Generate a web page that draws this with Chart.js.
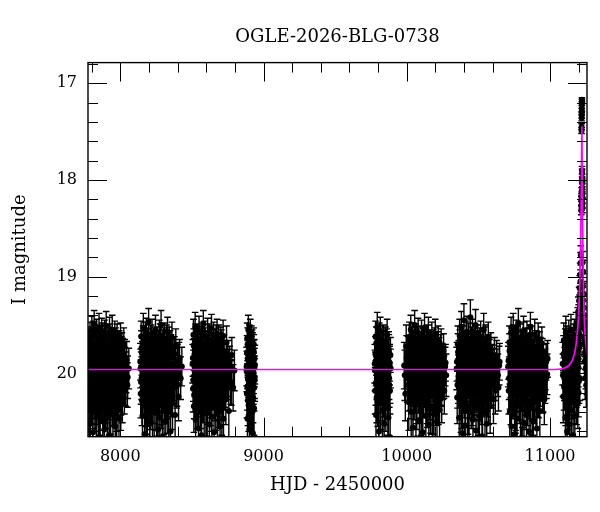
<!DOCTYPE html>
<html>
<head>
<meta charset="utf-8">
<script src="https://cdn.jsdelivr.net/npm/chart.js@4"></script>
<style>
html,body{margin:0;padding:0;background:#fff;}
#wrap{width:600px;height:512px;position:relative;}
</style>
</head>
<body>
<div id="wrap"><canvas id="c"></canvas></div>
<script>
// ---- data: [HJD-2450000, I mag, error] per observing season ----
const season1 = [[7774,19.92,.20],[7776,20.15,.24],[7779,19.71,.17],[7781,20.38,.28],[7783,19.88,.19],[7786,20.04,.22],[7789,19.63,.16],[7791,20.52,.32],[7794,19.97,.21],[7797,19.80,.18],[7799,20.27,.25],[7802,19.56,.15],[7805,20.09,.23],[7807,19.91,.20],[7810,20.61,.33],[7812,19.74,.17],[7815,20.18,.24],[7818,19.49,.14],[7820,19.99,.21],[7823,20.33,.27],[7826,19.68,.16],[7828,20.07,.22],[7831,19.85,.19],[7833,20.45,.30],[7836,19.60,.16],[7839,20.21,.25],[7841,19.94,.20],[7844,19.77,.18],[7846,20.69,.35],[7849,20.02,.22],[7852,19.53,.15],[7854,20.12,.23],[7857,19.89,.19],[7860,20.36,.28],[7862,19.66,.16],[7865,19.98,.21],[7868,20.26,.26],[7870,19.58,.15],[7873,20.05,.22],[7875,19.82,.18],[7878,20.48,.31],[7881,19.72,.17],[7883,20.14,.24],[7886,19.93,.20],[7889,20.58,.33],[7891,19.61,.16],[7894,20.01,.21],[7896,19.86,.19],[7899,20.30,.27],[7902,19.51,.15],[7904,20.10,.23],[7907,19.79,.18],[7910,20.41,.29],[7912,19.96,.21],[7915,19.69,.17],[7917,20.23,.25],[7920,19.90,.20],[7923,20.64,.34],[7925,19.57,.15],[7928,20.08,.22],[7931,19.83,.19],[7933,20.35,.28],[7936,19.75,.17],[7938,20.00,.21],[7941,20.19,.24],[7944,19.55,.15],[7946,19.95,.20],[7949,20.43,.30],[7952,19.70,.17],[7954,20.06,.22],[7957,19.87,.19],[7959,20.29,.26],[7962,19.62,.16],[7965,20.55,.32],[7967,19.92,.20],[7970,20.13,.23],[7973,19.78,.18],[7975,20.38,.29],[7978,19.65,.16],[7980,20.03,.22],[7983,19.84,.19],[7986,20.22,.25],[7988,19.73,.17],[7991,20.47,.31],[7994,19.97,.21],[7996,19.81,.18],[7999,20.16,.24],[8002,19.64,.16],[8004,20.32,.27],[8007,19.90,.20],[8010,20.09,.23],[8012,19.76,.18],[8015,20.25,.26],[8018,19.83,.19],[8021,20.02,.22],[8025,19.70,.17],[8029,20.18,.24],[8033,19.93,.20],[8038,20.11,.23],[8045,19.86,.19],[8052,20.04,.22],[8060,19.95,.21],
  [7777,19.81,.19],[7782,20.11,.23],[7787,19.90,.20],[7792,19.69,.17],[7796,20.22,.25],[7800,20.01,.22],[7804,19.76,.18],[7808,20.30,.27],[7811,19.94,.20],[7814,19.62,.16],[7817,20.06,.22],[7821,19.85,.19],[7825,20.17,.24],[7829,19.73,.17],[7832,20.00,.21],[7835,20.27,.26],[7838,19.88,.19],[7842,19.67,.17],[7845,20.13,.23],[7848,19.92,.20],[7851,20.39,.28],[7855,19.78,.18],[7858,20.04,.22],[7861,19.97,.21],[7864,19.71,.17],[7867,20.20,.25],[7871,19.86,.19],[7874,20.09,.23],[7877,19.64,.16],[7880,19.99,.21],[7884,20.32,.27],[7887,19.80,.18],[7890,20.07,.22],[7893,19.90,.20],[7897,20.15,.24],[7900,19.68,.17],[7903,20.03,.22],[7906,19.95,.20],[7909,20.25,.26],[7913,19.75,.18],[7916,20.10,.23],[7919,19.83,.19],[7922,20.36,.28],[7926,19.93,.20],[7929,19.66,.17],[7932,20.18,.24],[7935,19.88,.19],[7939,20.05,.22],[7942,19.72,.17],[7945,20.28,.26],[7948,19.96,.21],[7951,20.12,.23],[7955,19.79,.18],[7958,20.00,.21],[7961,19.87,.19],[7964,20.21,.25],[7968,19.70,.17],[7971,20.08,.22],[7974,19.94,.20],[7977,20.33,.27],[7981,19.82,.19],[7984,20.02,.22],[7987,19.91,.20],[7990,20.14,.24],[7993,19.74,.18],[7997,20.05,.22],[8000,19.89,.19],[8005,20.19,.24],[8009,19.80,.18],[8014,20.03,.22],[8019,19.92,.20],[8024,20.10,.23],[8031,19.84,.19],[8041,19.99,.21],[8050,20.12,.23]];
const season2 = [[8140,19.88,.19],[8143,20.21,.25],[8146,19.62,.16],[8149,20.05,.22],[8152,19.79,.18],[8155,20.44,.30],[8158,19.97,.21],[8161,19.53,.15],[8164,20.12,.23],[8167,19.85,.19],[8170,20.63,.34],[8173,19.70,.17],[8176,20.01,.21],[8179,20.29,.26],[8182,19.58,.15],[8186,19.93,.20],[8189,20.37,.28],[8192,19.76,.18],[8195,20.08,.22],[8198,19.47,.14],[8201,20.17,.24],[8204,19.90,.20],[8207,20.52,.32],[8210,19.66,.16],[8213,20.03,.22],[8216,19.82,.19],[8219,20.25,.25],[8222,19.59,.15],[8225,20.70,.36],[8228,19.95,.20],[8231,20.14,.23],[8234,19.73,.17],[8237,20.40,.29],[8240,19.87,.19],[8243,20.06,.22],[8246,19.55,.15],[8249,20.32,.27],[8252,19.98,.21],[8255,19.68,.16],[8258,20.19,.24],[8261,19.81,.18],[8264,20.58,.33],[8267,19.91,.20],[8270,20.10,.23],[8273,19.61,.16],[8276,20.46,.30],[8279,19.77,.18],[8282,20.02,.22],[8285,19.50,.15],[8288,20.27,.26],[8291,19.94,.20],[8294,20.66,.35],[8297,19.72,.17],[8300,20.15,.24],[8303,19.86,.19],[8306,20.35,.28],[8309,19.64,.16],[8312,20.04,.22],[8315,19.89,.19],[8318,20.50,.31],[8321,19.75,.17],[8324,20.22,.25],[8327,19.99,.21],[8330,19.57,.15],[8333,20.11,.23],[8336,19.83,.19],[8339,20.39,.29],[8342,19.69,.17],[8345,20.07,.22],[8348,19.92,.20],[8351,20.60,.33],[8354,19.78,.18],[8357,20.18,.24],[8361,19.63,.16],[8365,20.31,.27],[8369,19.96,.21],[8373,20.09,.23],[8378,19.80,.18],[8383,20.43,.30],[8388,19.71,.17],[8394,20.13,.23],[8400,19.90,.20],[8407,20.24,.25],[8414,19.84,.19],[8422,20.05,.22],[8430,19.93,.20],
  [8142,19.95,.20],[8145,20.09,.23],[8148,19.74,.18],[8151,20.28,.26],[8154,19.86,.19],[8157,20.02,.22],[8160,19.68,.17],[8163,19.92,.20],[8166,20.19,.24],[8169,19.80,.18],[8172,20.06,.22],[8175,19.63,.16],[8178,19.97,.21],[8181,20.35,.28],[8185,19.83,.19],[8188,20.13,.23],[8191,19.90,.20],[8194,19.71,.17],[8197,20.24,.25],[8200,20.00,.21],[8203,19.77,.18],[8206,20.10,.23],[8209,19.89,.19],[8212,20.31,.27],[8215,19.66,.16],[8218,20.04,.22],[8221,19.94,.20],[8224,20.16,.24],[8227,19.79,.18],[8230,20.01,.21],[8233,19.87,.19],[8236,20.26,.26],[8239,19.69,.17],[8242,20.08,.22],[8245,19.92,.20],[8248,20.14,.24],[8251,19.75,.18],[8254,20.37,.28],[8257,19.84,.19],[8260,20.03,.22],[8263,19.96,.21],[8266,19.72,.17],[8269,20.21,.25],[8272,19.88,.19],[8275,20.05,.22],[8278,19.65,.16],[8281,20.12,.23],[8284,19.91,.20],[8287,20.30,.27],[8290,19.78,.18],[8293,20.00,.21],[8296,19.86,.19],[8299,20.17,.24],[8302,19.70,.17],[8305,20.07,.22],[8308,19.95,.20],[8311,20.23,.25],[8314,19.81,.18],[8317,20.02,.22],[8320,19.93,.20],[8323,19.67,.17],[8326,20.11,.23],[8329,19.88,.19],[8332,20.34,.28],[8335,19.76,.18],[8338,20.04,.22],[8341,19.97,.21],[8344,20.15,.24],[8347,19.73,.17],[8350,20.09,.23],[8355,19.90,.20],[8360,20.20,.25],[8367,19.82,.19],[8375,20.06,.22],[8385,19.94,.20],[8396,20.11,.23],[8410,19.87,.19]];
const season3 = [[8505,19.90,.20],[8508,20.16,.24],[8511,19.60,.16],[8514,20.34,.27],[8517,19.83,.19],[8520,20.02,.22],[8523,19.52,.15],[8526,20.48,.31],[8529,19.95,.20],[8532,19.74,.17],[8535,20.20,.25],[8538,19.65,.16],[8541,20.07,.22],[8544,19.88,.19],[8547,20.57,.33],[8550,19.56,.15],[8553,20.11,.23],[8556,19.81,.18],[8559,20.30,.27],[8562,19.97,.21],[8565,19.69,.17],[8568,20.64,.34],[8571,20.04,.22],[8574,19.77,.18],[8577,20.25,.26],[8580,19.49,.14],[8583,19.92,.20],[8586,20.41,.29],[8589,19.62,.16],[8592,20.13,.23],[8595,19.86,.19],[8598,20.69,.36],[8601,19.73,.17],[8604,20.00,.21],[8607,20.37,.28],[8610,19.58,.15],[8613,19.94,.20],[8616,20.19,.24],[8619,19.79,.18],[8622,20.53,.32],[8625,19.67,.16],[8628,20.08,.23],[8631,19.89,.19],[8634,20.28,.26],[8637,19.54,.15],[8640,20.45,.30],[8643,19.98,.21],[8646,19.76,.18],[8649,20.14,.24],[8652,19.63,.16],[8655,20.61,.34],[8658,19.91,.20],[8661,20.03,.22],[8664,19.71,.17],[8667,20.32,.27],[8670,19.84,.19],[8673,20.10,.23],[8676,19.59,.15],[8679,20.42,.29],[8682,19.96,.21],[8685,20.23,.25],[8688,19.66,.16],[8691,20.06,.22],[8694,19.80,.18],[8697,20.55,.32],[8700,19.93,.20],[8703,20.17,.24],[8706,19.72,.17],[8709,20.36,.28],[8712,19.87,.19],[8715,20.01,.21],[8718,19.61,.16],[8721,20.47,.31],[8725,19.78,.18],[8729,20.12,.23],[8733,19.95,.20],[8737,20.27,.26],[8742,19.68,.17],[8747,20.05,.22],[8752,19.85,.19],[8758,20.39,.29],[8764,19.92,.20],[8771,20.09,.23],[8779,19.81,.18],[8788,20.15,.24],[8797,19.97,.21],
  [8507,19.84,.19],[8510,20.07,.22],[8513,19.71,.17],[8516,20.22,.25],[8519,19.93,.20],[8522,20.01,.21],[8525,19.66,.17],[8528,20.14,.24],[8531,19.88,.19],[8534,19.97,.21],[8537,20.30,.27],[8540,19.78,.18],[8543,20.04,.22],[8546,19.91,.20],[8549,19.68,.17],[8552,20.18,.24],[8555,19.85,.19],[8558,20.09,.23],[8561,19.75,.18],[8564,20.36,.28],[8567,19.94,.20],[8570,20.00,.21],[8573,19.63,.16],[8576,20.12,.23],[8579,19.87,.19],[8582,20.25,.26],[8585,19.80,.18],[8588,20.05,.22],[8591,19.96,.21],[8594,19.70,.17],[8597,20.16,.24],[8600,19.90,.20],[8603,20.03,.22],[8606,19.82,.19],[8609,20.27,.26],[8612,19.74,.18],[8615,20.08,.23],[8618,19.99,.21],[8621,19.65,.16],[8624,20.21,.25],[8627,19.86,.19],[8630,20.02,.22],[8633,19.93,.20],[8636,20.33,.27],[8639,19.77,.18],[8642,20.06,.22],[8645,19.89,.19],[8648,20.13,.23],[8651,19.72,.17],[8654,20.00,.21],[8657,19.95,.20],[8660,20.24,.25],[8663,19.81,.18],[8666,20.10,.23],[8669,19.67,.17],[8672,19.98,.21],[8675,20.17,.24],[8678,19.84,.19],[8681,20.05,.22],[8684,19.92,.20],[8687,20.29,.27],[8690,19.76,.18],[8693,20.01,.21],[8696,19.88,.19],[8699,20.11,.23],[8702,19.69,.17],[8705,20.04,.22],[8708,19.94,.20],[8711,20.20,.25],[8714,19.80,.18],[8719,20.07,.22],[8723,19.90,.20],[8731,20.14,.24],[8740,19.85,.19],[8750,20.02,.22],[8762,19.96,.21],[8776,20.10,.23]];
const season4 = [[8882,19.93,.20],[8884,20.21,.25],[8886,19.64,.16],[8888,20.47,.31],[8890,19.85,.19],[8892,20.06,.22],[8894,19.55,.15],[8896,20.33,.27],[8898,19.97,.21],[8900,19.73,.17],[8902,20.58,.33],[8904,20.12,.23],[8906,19.81,.18],[8908,19.60,.16],[8910,20.27,.26],[8912,19.90,.20],[8914,20.02,.22],[8916,19.68,.17],[8918,20.41,.29],[8920,19.88,.19],[8922,20.16,.24],[8924,19.76,.18],[8926,20.62,.34],[8928,19.95,.20],[8930,20.09,.23],[8932,19.70,.17],[8934,20.36,.28],[8936,19.84,.19],[8938,20.04,.22],[8940,19.91,.20],
  [8883,19.98,.21],[8885,19.79,.18],[8887,20.14,.24],[8889,19.70,.17],[8891,20.28,.26],[8893,19.92,.20],[8895,20.03,.22],[8897,19.82,.19],[8899,20.19,.24],[8901,19.66,.16],[8903,20.01,.21],[8905,19.88,.19],[8907,20.31,.27],[8909,19.75,.18],[8911,20.08,.23],[8913,19.95,.20],[8915,20.22,.25],[8917,19.80,.18],[8919,20.05,.22],[8921,19.72,.17],[8923,20.11,.23],[8925,19.90,.20],[8927,20.25,.26],[8929,19.85,.19],[8931,20.00,.21],[8933,19.78,.18],[8935,20.15,.24],[8937,19.94,.20],[8939,20.07,.22]];
const season5 = [[9776,19.90,.20],[9779,20.18,.24],[9782,19.62,.16],[9785,20.43,.30],[9788,19.83,.19],[9791,20.05,.22],[9794,19.52,.15],[9797,20.29,.26],[9800,19.96,.21],[9803,19.71,.17],[9806,20.60,.33],[9809,20.10,.23],[9812,19.79,.18],[9815,19.57,.15],[9818,20.24,.25],[9821,19.93,.20],[9824,20.01,.22],[9827,19.66,.16],[9830,20.38,.28],[9833,19.87,.19],[9836,20.14,.24],[9839,19.74,.17],[9842,20.52,.32],[9845,19.98,.21],[9848,20.07,.22],[9851,19.69,.17],[9854,20.33,.27],[9857,19.85,.19],[9860,20.03,.22],[9863,19.60,.16],[9866,20.21,.25],[9869,19.92,.20],[9872,20.46,.30],[9875,19.78,.18],[9878,20.12,.23],[9881,19.89,.19],[9884,20.66,.35],[9887,19.95,.20],
  [9778,19.97,.21],[9781,19.80,.18],[9784,20.10,.23],[9787,19.69,.17],[9790,20.25,.26],[9793,19.91,.20],[9796,20.02,.22],[9799,19.76,.18],[9802,20.17,.24],[9805,19.88,.19],[9808,19.64,.16],[9811,20.06,.22],[9814,19.94,.20],[9817,20.31,.27],[9820,19.82,.19],[9823,20.08,.23],[9826,19.73,.17],[9829,20.00,.21],[9832,19.90,.20],[9835,20.20,.25],[9838,19.67,.17],[9841,20.04,.22],[9844,19.86,.19],[9847,20.27,.26],[9850,19.78,.18],[9853,20.09,.23],[9856,19.95,.20],[9859,19.71,.17],[9862,20.13,.24],[9865,19.84,.19],[9868,20.36,.28],[9871,19.99,.21],[9874,19.75,.18],[9877,20.05,.22],[9880,19.92,.20],[9883,20.18,.24],[9886,19.81,.18]];
const season6 = [[9982,19.92,.24],[9990,20.21,.28],[9996,19.72,.22],[10003,20.05,.25],[10009,19.83,.21],[10014,20.30,.29],[10018,19.66,.19],[10022,19.97,.20],[10025,20.14,.24],[10028,19.55,.15],[10031,20.40,.29],[10034,19.86,.19],[10037,20.02,.22],[10040,19.64,.16],[10043,20.56,.32],[10046,19.91,.20],[10049,19.76,.18],[10052,20.23,.25],[10055,19.50,.15],[10058,20.08,.23],[10061,19.81,.18],[10064,20.67,.35],[10067,19.94,.20],[10070,20.31,.27],[10073,19.69,.17],[10076,20.00,.21],[10079,19.58,.15],[10082,20.17,.24],[10085,19.88,.19],[10088,20.49,.31],[10091,19.74,.17],[10094,20.11,.23],[10097,19.96,.21],[10100,20.36,.28],[10103,19.61,.16],[10106,20.04,.22],[10109,19.84,.19],[10112,20.61,.34],[10115,19.70,.17],[10118,20.20,.25],[10121,19.93,.20],[10124,19.53,.15],[10127,20.09,.23],[10130,19.79,.18],[10133,20.44,.30],[10136,19.99,.21],[10139,19.66,.16],[10142,20.26,.26],[10145,19.87,.19],[10148,20.06,.22],[10151,19.57,.15],[10154,20.53,.32],[10157,19.92,.20],[10160,20.13,.24],[10163,19.75,.18],[10166,20.34,.28],[10169,19.89,.19],[10172,20.01,.22],[10175,19.63,.16],[10178,20.70,.36],[10181,19.95,.20],[10184,20.19,.24],[10187,19.72,.17],[10190,20.42,.29],[10193,19.85,.19],[10196,20.07,.22],[10199,19.60,.16],[10202,20.28,.26],[10205,19.98,.21],[10208,19.78,.18],[10211,20.50,.31],[10214,19.90,.20],[10217,20.15,.24],[10220,19.67,.16],[10223,20.03,.22],[10226,19.82,.19],[10229,20.38,.28],[10232,19.94,.20],[10236,20.10,.23],[10240,19.71,.17],[10244,20.25,.26],[10248,19.88,.19],[10252,20.05,.22],[10257,19.77,.18],[10262,20.18,.24],[10268,19.93,.20],[10275,20.02,.22],
  [9986,20.02,.26],[9999,19.84,.23],[10011,20.12,.27],[10020,19.90,.20],[10023,20.07,.22],[10026,19.78,.18],[10029,20.22,.25],[10032,19.94,.20],[10035,19.69,.17],[10038,20.11,.23],[10041,19.87,.19],[10044,20.30,.27],[10047,19.99,.21],[10050,19.73,.17],[10053,20.04,.22],[10056,19.85,.19],[10059,20.17,.24],[10062,19.65,.16],[10065,20.00,.21],[10068,19.92,.20],[10071,20.26,.26],[10074,19.80,.18],[10077,20.09,.23],[10080,19.95,.20],[10083,19.71,.17],[10086,20.14,.24],[10089,19.88,.19],[10092,20.03,.22],[10095,19.76,.18],[10098,20.21,.25],[10101,19.93,.20],[10104,20.06,.22],[10107,19.68,.17],[10110,20.33,.28],[10113,19.86,.19],[10116,20.01,.21],[10119,19.79,.18],[10122,20.12,.23],[10125,19.97,.21],[10128,19.72,.17],[10131,20.18,.24],[10134,19.89,.19],[10137,20.05,.22],[10140,19.82,.19],[10143,20.29,.27],[10146,19.94,.20],[10149,19.66,.16],[10152,20.08,.23],[10155,19.90,.20],[10158,20.23,.25],[10161,19.77,.18],[10164,20.02,.22],[10167,19.96,.21],[10170,20.15,.24],[10173,19.74,.17],[10176,20.04,.22],[10179,19.87,.19],[10182,20.35,.28],[10185,19.81,.18],[10188,20.07,.22],[10191,19.93,.20],[10194,19.70,.17],[10197,20.19,.24],[10200,19.91,.20],[10203,20.03,.22],[10206,19.84,.19],[10209,20.13,.23],[10212,19.75,.18],[10215,20.00,.21],[10218,19.95,.20],[10221,20.27,.26],[10225,19.86,.19],[10230,20.06,.22],[10235,19.78,.18],[10242,20.11,.23],[10250,19.92,.20],[10260,20.04,.22],[10271,19.89,.19]];
const season7 = [[10348,19.95,.22],[10352,20.25,.27],[10356,19.70,.19],[10360,20.08,.23],[10363,19.86,.20],[10366,20.46,.31],[10369,19.61,.17],[10372,20.03,.22],[10375,19.79,.18],[10378,20.33,.28],[10381,19.52,.16],[10384,20.15,.24],[10387,19.91,.20],[10390,20.62,.35],[10393,19.68,.17],[10396,20.06,.22],[10399,19.45,.17],[10402,20.21,.25],[10405,19.84,.19],[10408,20.54,.33],[10411,19.97,.21],[10414,19.74,.18],[10417,20.12,.23],[10420,19.57,.16],[10423,20.39,.29],[10426,19.89,.19],[10429,20.01,.22],[10432,19.64,.16],[10435,20.68,.36],[10438,19.93,.20],[10441,20.18,.24],[10444,19.42,.18],[10447,19.77,.18],[10450,20.30,.27],[10453,19.86,.19],[10456,20.09,.23],[10459,19.59,.15],[10462,20.48,.31],[10465,19.98,.21],[10468,19.71,.17],[10471,20.23,.25],[10474,19.88,.19],[10477,20.04,.22],[10480,19.50,.16],[10483,20.59,.34],[10486,19.82,.18],[10489,20.14,.24],[10492,19.94,.20],[10495,19.66,.16],[10498,20.36,.28],[10501,20.00,.21],[10504,19.75,.18],[10507,20.44,.30],[10510,19.90,.20],[10513,20.11,.23],[10516,19.62,.16],[10519,20.27,.26],[10522,19.85,.19],[10525,20.65,.35],[10528,19.96,.21],[10531,19.73,.17],[10534,20.17,.24],[10537,19.55,.17],[10540,20.05,.22],[10543,19.87,.19],[10546,20.41,.29],[10549,19.69,.17],[10552,20.02,.22],[10555,19.80,.18],[10558,20.52,.32],[10561,19.92,.20],[10565,20.20,.25],[10569,19.63,.16],[10573,20.07,.22],[10577,19.84,.19],[10582,20.34,.28],[10587,19.76,.18],[10592,20.13,.23],[10598,19.91,.20],[10605,20.26,.26],[10612,19.81,.18],[10620,20.06,.22],[10630,19.95,.20],[10640,20.15,.24],[10648,19.88,.19],
  [10350,19.88,.20],[10354,20.12,.24],[10358,19.78,.19],[10361,20.03,.22],[10364,19.93,.20],[10367,20.21,.25],[10370,19.72,.17],[10373,19.98,.21],[10376,20.09,.23],[10379,19.84,.19],[10382,20.30,.27],[10385,19.67,.17],[10388,20.05,.22],[10391,19.90,.20],[10394,20.17,.24],[10397,19.76,.18],[10400,20.00,.21],[10403,19.95,.20],[10406,20.26,.26],[10409,19.81,.18],[10412,20.07,.22],[10415,19.62,.16],[10418,19.99,.21],[10421,20.14,.24],[10424,19.87,.19],[10427,20.35,.28],[10430,19.74,.17],[10433,20.04,.22],[10436,19.92,.20],[10439,20.22,.25],[10442,19.80,.18],[10445,20.01,.21],[10448,19.96,.21],[10451,19.69,.17],[10454,20.11,.23],[10457,19.89,.19],[10460,20.28,.26],[10463,19.77,.18],[10466,20.06,.22],[10469,19.93,.20],[10472,20.16,.24],[10475,19.65,.16],[10478,20.02,.22],[10481,19.85,.19],[10484,20.32,.27],[10487,19.97,.21],[10490,19.73,.17],[10493,20.08,.23],[10496,19.91,.20],[10499,20.19,.24],[10502,19.82,.19],[10505,20.03,.22],[10508,19.70,.17],[10511,20.24,.25],[10514,19.94,.20],[10517,20.00,.21],[10520,19.79,.18],[10523,20.13,.23],[10526,19.88,.19],[10529,20.37,.28],[10532,19.75,.18],[10535,20.05,.22],[10538,19.96,.21],[10541,20.20,.25],[10544,19.83,.19],[10547,20.09,.23],[10550,19.67,.17],[10553,19.99,.21],[10556,20.15,.24],[10559,19.86,.19],[10563,20.04,.22],[10567,19.78,.18],[10571,20.27,.26],[10575,19.93,.20],[10580,20.01,.21],[10585,19.81,.18],[10590,20.10,.23],[10596,19.89,.19],[10603,20.07,.22],[10610,19.94,.20],[10618,20.18,.24],[10627,19.85,.19],[10636,20.02,.22],[10645,19.92,.20]];
const season8 = [[10708,19.93,.21],[10712,20.18,.24],[10716,19.68,.17],[10719,20.40,.29],[10722,19.85,.19],[10725,20.03,.22],[10728,19.58,.16],[10731,20.55,.33],[10734,19.96,.21],[10737,19.76,.18],[10740,20.22,.25],[10743,19.53,.15],[10746,20.10,.23],[10749,19.89,.19],[10752,20.63,.35],[10755,19.72,.17],[10758,20.06,.22],[10761,20.32,.27],[10764,19.61,.16],[10767,19.94,.20],[10770,20.47,.31],[10773,19.80,.18],[10776,20.13,.23],[10779,19.48,.15],[10782,20.01,.22],[10785,20.26,.26],[10788,19.87,.19],[10791,19.65,.16],[10794,20.69,.36],[10797,19.98,.21],[10800,20.15,.24],[10803,19.74,.17],[10806,20.37,.28],[10809,19.91,.20],[10812,20.04,.22],[10815,19.56,.15],[10818,20.51,.32],[10821,19.83,.19],[10824,20.19,.24],[10827,19.70,.17],[10830,20.08,.23],[10833,19.95,.20],[10836,20.43,.30],[10839,19.62,.16],[10842,20.28,.26],[10845,19.88,.19],[10848,20.00,.21],[10851,19.77,.18],[10854,20.60,.34],[10857,19.92,.20],[10860,20.11,.23],[10863,19.52,.15],[10866,20.35,.28],[10869,19.84,.19],[10872,20.05,.22],[10875,19.67,.16],[10878,20.24,.25],[10881,19.97,.21],[10884,20.49,.31],[10887,19.79,.18],[10890,20.14,.24],[10893,19.60,.16],[10896,20.02,.22],[10899,19.90,.20],[10902,20.30,.27],[10905,19.73,.17],[10908,20.57,.33],[10911,19.86,.19],[10914,20.09,.23],[10917,19.64,.16],[10921,20.21,.25],[10925,19.94,.20],[10929,20.39,.29],[10933,19.81,.18],[10938,20.07,.22],[10943,19.69,.17],[10948,20.17,.24],[10954,19.89,.19],[10960,20.27,.26],[10967,19.96,.21],[10975,20.04,.22],[10983,19.85,.19],
  [10710,19.87,.19],[10714,20.05,.22],[10717,19.77,.18],[10720,20.13,.24],[10723,19.94,.20],[10726,20.27,.26],[10729,19.70,.17],[10732,20.01,.21],[10735,19.86,.19],[10738,20.10,.23],[10741,19.66,.16],[10744,19.97,.21],[10747,20.20,.25],[10750,19.81,.18],[10753,20.04,.22],[10756,19.91,.20],[10759,20.34,.28],[10762,19.74,.17],[10765,20.07,.22],[10768,19.88,.19],[10771,20.16,.24],[10774,19.68,.17],[10777,20.00,.21],[10780,19.95,.20],[10783,20.23,.25],[10786,19.79,.18],[10789,20.06,.22],[10792,19.90,.20],[10795,20.12,.23],[10798,19.72,.17],[10801,20.02,.22],[10804,19.85,.19],[10807,20.29,.27],[10810,19.96,.21],[10813,19.63,.16],[10816,20.09,.23],[10819,19.92,.20],[10822,20.14,.24],[10825,19.78,.18],[10828,20.03,.22],[10831,19.87,.19],[10834,20.31,.27],[10837,19.71,.17],[10840,20.05,.22],[10843,19.99,.21],[10846,20.18,.24],[10849,19.82,.19],[10852,20.01,.21],[10855,19.93,.20],[10858,19.67,.17],[10861,20.22,.25],[10864,19.89,.19],[10867,20.08,.23],[10870,19.76,.18],[10873,20.13,.23],[10876,19.95,.20],[10879,20.36,.28],[10882,19.84,.19],[10885,20.04,.22],[10888,19.90,.20],[10891,20.26,.26],[10894,19.73,.17],[10897,20.07,.22],[10900,19.97,.21],[10903,20.15,.24],[10906,19.80,.18],[10909,20.02,.22],[10912,19.94,.20],[10915,20.20,.25],[10919,19.86,.19],[10923,20.06,.22],[10927,19.75,.18],[10931,20.11,.23],[10936,19.91,.20],[10941,20.03,.22],[10946,19.83,.19],[10952,20.16,.24],[10958,19.95,.20],[10965,20.08,.23],[10973,19.88,.19],[10980,20.01,.21]];
const season9 = [[11088,19.90,.22],[11092,20.24,.27],[11096,19.66,.18],[11100,20.05,.23],[11104,19.84,.20],[11107,20.46,.31],[11110,19.58,.17],[11113,20.12,.24],[11116,19.95,.21],[11119,20.60,.34],[11122,19.74,.18],[11125,20.02,.22],[11128,20.31,.27],[11131,19.62,.17],[11134,19.91,.20],[11137,20.53,.32],[11140,19.79,.18],[11143,20.15,.24],[11146,19.55,.16],[11149,20.38,.29],[11152,19.87,.19],[11155,20.08,.23],[11158,19.70,.17],[11161,20.64,.35],[11164,19.93,.20],[11167,20.19,.25],[11170,19.60,.16],[11173,20.44,.30],[11176,19.82,.19],[11179,20.03,.22],[11182,19.53,.16],[11185,20.27,.26],[11188,19.76,.18],[11191,20.10,.23],[11193,19.48,.16],[11195,19.85,.19],[11197,19.36,.15],[11199,20.20,.25],[11201,19.58,.17],[11203,19.25,.14],[11205,19.72,.18],[11207,19.12,.13],[11208,20.05,.23],[11209,19.40,.15],[11210,18.98,.12],[11211,19.62,.17],[11212,19.05,.12],[11213,18.86,.11],[11214,19.30,.14],[11215,18.78,.10],[11218,18.31,.05],[11218.5,18.27,.05],[11219,18.22,.05],[11219.5,18.18,.04],[11220,18.12,.04],[11220.2,17.49,.03],[11220.6,17.45,.03],[11221,17.36,.03],[11221.3,17.33,.03],[11221.6,17.29,.03],[11221.9,17.26,.03],[11222.2,17.21,.02],[11222.5,17.19,.02],[11222.8,17.17,.02],[11223.5,17.90,.04],[11224,17.93,.04],[11224.4,17.98,.04],[11224.8,18.03,.04],[11225.2,18.08,.04],[11225.6,18.14,.04],[11226,18.19,.05],[11226.4,18.24,.05],[11226.8,18.29,.05],[11228,18.85,.11],[11230,19.10,.13],[11232,18.95,.12],[11234,19.32,.14],[11236,19.18,.13],[11238,19.48,.16],[11240,19.40,.15],[11242,19.65,.17],[11244,19.55,.16],[11246,19.78,.18],[11248,19.62,.17],[11250,19.86,.19],[11252,19.70,.18],[11254,19.93,.20],[11256,19.80,.19],
  [11090,20.02,.22],[11094,19.80,.19],[11098,20.14,.24],[11102,19.93,.20],[11106,19.72,.18],[11109,20.28,.26],[11112,19.88,.19],[11115,20.06,.22],[11118,19.68,.17],[11121,20.19,.24],[11124,19.95,.20],[11127,20.00,.21],[11130,19.76,.18],[11133,20.35,.28],[11136,19.86,.19],[11139,20.09,.23],[11142,19.97,.21],[11145,19.71,.17],[11148,20.22,.25],[11151,19.90,.20],[11154,20.04,.22],[11157,19.82,.19],[11160,20.16,.24],[11163,19.66,.17],[11166,20.01,.21],[11169,19.92,.20],[11172,20.26,.26],[11175,19.78,.18],[11178,20.07,.22],[11181,19.87,.19],[11184,20.12,.23],[11187,19.64,.17],[11190,19.96,.21],[11194,20.30,.27],[11196,19.70,.18],[11198,19.94,.20],[11200,19.45,.16],[11202,20.08,.23],[11204,19.60,.17],[11206,19.33,.14],[11211,19.20,.13],[11213,19.52,.16],[11229,19.25,.14],[11233,19.50,.16],[11237,19.70,.18],[11241,19.88,.19],[11245,20.05,.22],[11249,19.95,.21],[11253,20.12,.23],[11257,20.00,.22]];

// model light curve
const modelT   = [7775, 9000, 10000, 11000, 11090, 11130, 11160, 11180, 11195, 11205, 11212, 11217, 11220, 11222, 11224, 11227, 11231, 11237, 11245, 11258];
const modelMag = [19.96, 19.96, 19.96, 19.96, 19.95, 19.92, 19.85, 19.72, 19.50, 19.20, 18.80, 18.30, 17.85, 17.45, 17.85, 18.40, 18.90, 19.35, 19.60, 19.80];

// axes
const xRange = [7775, 11258];
const yRange = [16.787, 20.655];
const xTickLabels = [8000, 9000, 10000, 11000];
const yTickLabels = [17, 18, 19, 20];
const xMinorTicks = [7800, 8000, 8200, 8400, 8600, 8800, 9000, 9200, 9400, 9600, 9800, 10000, 10200, 10400, 10600, 10800, 11000, 11200];
const yMinorTicks = [16.8, 17.0, 17.2, 17.4, 17.6, 17.8, 18.0, 18.2, 18.4, 18.6, 18.8, 19.0, 19.2, 19.4, 19.6, 19.8, 20.0, 20.2, 20.4, 20.6];

const seasons = [season1, season2, season3, season4, season5, season6, season7, season8, season9];
const allObs = [].concat(...seasons);

Chart.defaults.font.family = "'DejaVu Serif', serif";
Chart.defaults.color = '#000';

const errorBars = {
  id: 'errorBars',
  beforeDatasetsDraw(chart) {
    const {ctx, chartArea: a, scales: {x, y}} = chart;
    ctx.save();
    ctx.beginPath();
    ctx.rect(a.left, a.top, a.right - a.left, a.bottom - a.top);
    ctx.clip();
    ctx.strokeStyle = '#000';
    ctx.lineWidth = 1.4;
    ctx.beginPath();
    chart.data.datasets.forEach(ds => {
      if (!ds.errors) return;
      ds.data.forEach((p, i) => {
        const px = x.getPixelForValue(p.x);
        const y1 = y.getPixelForValue(p.y - ds.errors[i]);
        const y2 = y.getPixelForValue(p.y + ds.errors[i]);
        ctx.moveTo(px, y1); ctx.lineTo(px, y2);
        ctx.moveTo(px - 3.3, y1); ctx.lineTo(px + 3.3, y1);
        ctx.moveTo(px - 3.3, y2); ctx.lineTo(px + 3.3, y2);
      });
    });
    ctx.stroke();
    ctx.restore();
  }
};

const frameTicks = {
  id: 'frameTicks',
  afterDraw(chart) {
    const {ctx, chartArea: a, scales: {x, y}} = chart;
    ctx.save();
    ctx.strokeStyle = '#000';
    ctx.lineWidth = 1;
    ctx.beginPath();
    xMinorTicks.forEach(v => {
      const p = Math.round(x.getPixelForValue(v)) + 0.5;
      const L = xTickLabels.includes(v) ? 19 : 10;
      ctx.moveTo(p, a.bottom); ctx.lineTo(p, a.bottom - L);
      ctx.moveTo(p, a.top); ctx.lineTo(p, a.top + L);
    });
    yMinorTicks.forEach(v => {
      const p = Math.round(y.getPixelForValue(v)) + 0.5;
      const L = yTickLabels.some(t => Math.abs(t - v) < 1e-6) ? 19 : 10;
      ctx.moveTo(a.left, p); ctx.lineTo(a.left + L, p);
      ctx.moveTo(a.right, p); ctx.lineTo(a.right - L, p);
    });
    ctx.stroke();
    ctx.lineWidth = 1.4;
    ctx.strokeRect(a.left, a.top, a.right - a.left, a.bottom - a.top);
    ctx.restore();
  }
};

new Chart(document.getElementById('c'), {
  type: 'scatter',
  data: {
    datasets: [
      {
        type: 'line',
        label: 'model',
        data: modelT.map((t, i) => ({x: t, y: modelMag[i]})),
        borderColor: '#ff00ff',
        borderWidth: 1.7,
        pointRadius: 0,
        fill: false,
        cubicInterpolationMode: 'monotone',
        order: 0
      },
      {
        label: 'OGLE I',
        data: allObs.map(r => ({x: r[0], y: r[1]})),
        errors: allObs.map(r => r[2]),
        backgroundColor: '#000',
        borderWidth: 0,
        pointRadius: 3,
        order: 1
      }
    ]
  },
  options: {
    responsive: true,
    maintainAspectRatio: false,
    animation: false,
    events: [],
    layout: {padding: {left: 0, right: 13, top: 0, bottom: 0}},
    plugins: {
      legend: {display: false},
      tooltip: {enabled: false},
      title: {
        display: true,
        text: 'OGLE-2026-BLG-0738',
        fullSize: false,
        color: '#000',
        font: {size: 18, weight: 'normal'},
        padding: {top: 27, bottom: 14}
      }
    },
    scales: {
      x: {
        type: 'linear',
        min: xRange[0], max: xRange[1],
        grid: {display: false, drawTicks: false},
        border: {display: false},
        afterBuildTicks: s => { s.ticks = xTickLabels.map(v => ({value: v})); },
        afterFit: s => { s.height = 75.3; },
        ticks: {font: {size: 16}, padding: 11, maxRotation: 0, autoSkip: false, callback: v => String(v)},
        title: {display: true, text: 'HJD - 2450000', font: {size: 18}, padding: {top: 0, bottom: 16}}
      },
      y: {
        type: 'linear',
        reverse: true,
        min: yRange[0], max: yRange[1],
        grid: {display: false, drawTicks: false},
        border: {display: false},
        afterBuildTicks: s => { s.ticks = yTickLabels.map(v => ({value: v})); },
        afterFit: s => { s.width = 88; },
        ticks: {font: {size: 16}, padding: 11, autoSkip: false, callback: v => String(v)},
        title: {display: true, text: 'I magnitude', font: {size: 18}, padding: {top: 10, bottom: 0}}
      }
    }
  },
  plugins: [errorBars, frameTicks]
});
</script>
</body>
</html>
